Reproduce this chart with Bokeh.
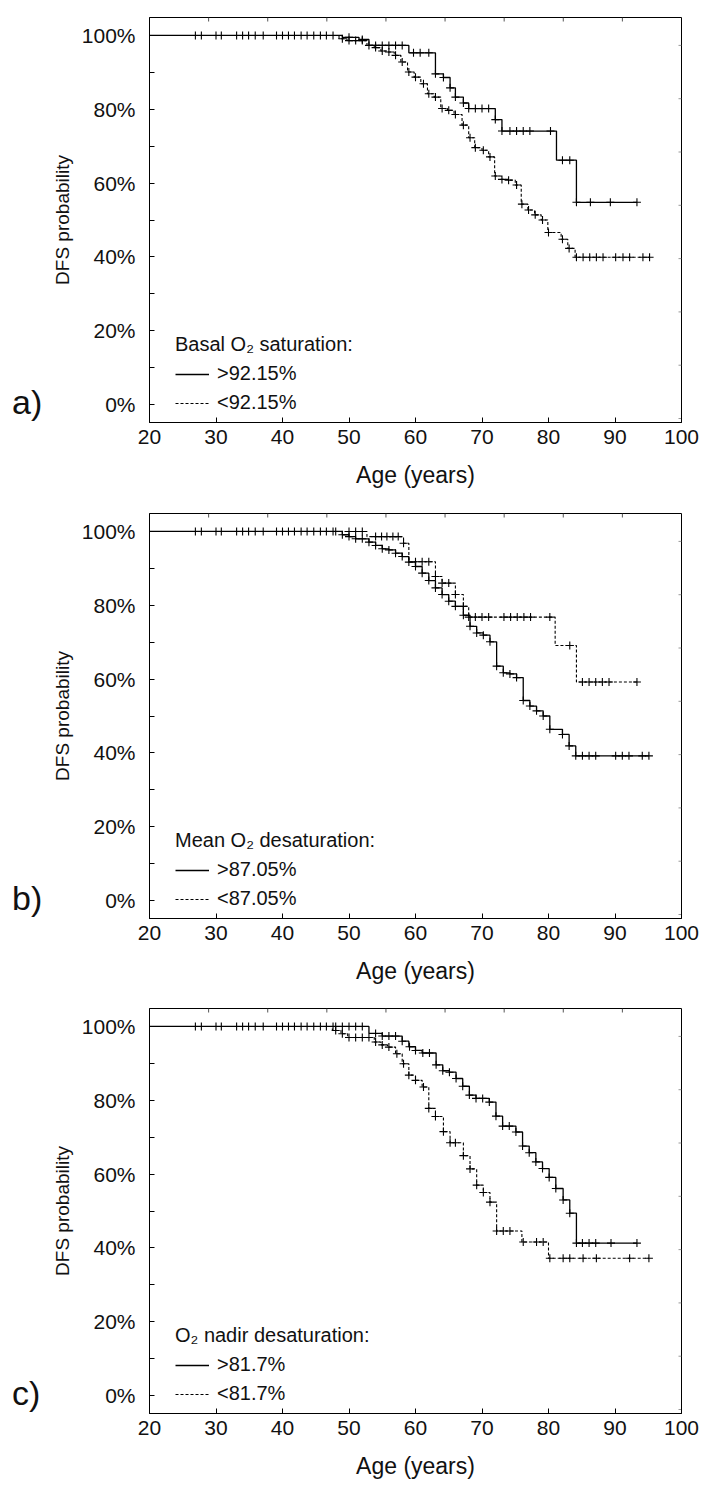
import numpy as np
from bokeh.plotting import figure
from bokeh.models import (Range1d, FixedTicker, PrintfTickFormatter,
                          Legend, LegendItem, Div)
from bokeh.layouts import column, row
from bokeh.embed import file_html
from bokeh.resources import INLINE

FONT = "Liberation Sans"

# ---------------- data (ages in years, survival in %) ----------------
top_cens_hi = [27.8, 30.8, 34.0, 35.9, 40.0, 41.8, 43.7, 45.7, 47.6]
top_cens_lo = [26.9, 30.0, 33.1, 34.9, 37.1, 39.1, 40.9, 42.8, 44.7, 46.6]

# Panel a: Basal O2 saturation
a_hi_age = [49.0, 51.5, 53.0, 59.0, 63.0, 64.2, 65.2, 66.0, 67.2, 68.0, 72.0, 73.0, 81.2, 84.2]
a_hi_surv = [99.5, 98.9, 97.3, 95.3, 89.6, 88.6, 85.8, 83.3, 81.7, 80.2, 77.2, 74.1, 66.2, 54.8]
a_hi_cens = [50.0, 52.0, 54.0, 55.0, 56.0, 57.0, 58.0, 59.7, 60.7, 62.0, 63.0, 64.2, 65.2,
             66.0, 67.2, 68.0, 69.0, 70.0, 71.0, 72.0, 73.0, 74.2, 75.2, 76.2, 77.2, 80.3,
             82.1, 83.2, 84.2, 86.3, 89.3, 93.3]
a_lo_age = [48.5, 49.7, 52.7, 53.8, 54.8, 55.8, 56.8, 57.8, 58.8, 59.8, 60.8, 61.8, 62.8,
            63.8, 64.8, 65.8, 67.0, 68.0, 68.9, 70.0, 71.0, 71.9, 72.9, 73.9, 75.0, 75.9,
            76.9, 77.9, 78.9, 79.9, 81.9, 82.9, 84.0]
a_lo_surv = [99.1, 98.6, 97.3, 96.7, 95.8, 95.5, 94.6, 92.8, 90.1, 88.7, 86.9, 84.2, 83.3,
             80.2, 79.7, 78.6, 75.7, 72.3, 69.6, 68.9, 67.1, 61.9, 61.0, 60.8, 59.5, 54.3,
             52.7, 51.4, 50.0, 46.6, 44.8, 42.3, 39.9]
a_lo_cens = [49.0, 50.0, 51.0, 52.0, 53.0, 54.0, 55.0, 56.0, 57.0, 58.0, 59.0, 60.0, 61.2,
             62.0, 63.0, 64.0, 65.0, 66.0, 67.2, 68.2, 69.0, 70.2, 71.2, 72.0, 73.0, 74.0,
             75.2, 76.0, 77.0, 78.0, 79.1, 80.0, 82.1, 83.1, 84.2, 85.2, 86.2, 87.2, 88.2,
             90.1, 91.2, 92.2, 94.2, 95.2]

# Panel b: Mean O2 desaturation
b_hi_age = [49.0, 50.0, 51.0, 53.0, 54.0, 55.0, 56.0, 57.0, 58.0, 59.0, 60.0, 61.0, 62.0,
            63.0, 64.0, 65.0, 66.0, 67.2, 68.2, 69.2, 70.2, 71.2, 72.2, 73.2, 74.2, 75.2,
            76.2, 77.2, 78.2, 79.2, 80.2, 82.1, 83.1, 84.1]
b_hi_surv = [99.1, 98.6, 98.0, 97.1, 96.2, 95.3, 95.0, 94.1, 93.2, 91.7, 90.5, 88.7, 86.7,
             84.7, 82.9, 81.1, 79.7, 77.3, 74.3, 72.5, 71.9, 70.1, 63.5, 61.7, 61.4, 60.4,
             54.2, 52.7, 51.4, 50.0, 46.4, 45.0, 41.9, 39.2]
b_hi_cens = [48.0, 49.0, 50.0, 51.0, 52.0, 53.0, 54.0, 55.0, 56.0, 57.0, 58.0, 59.0, 60.0,
             61.0, 62.0, 63.0, 64.0, 65.0, 66.0, 67.2, 68.2, 69.2, 70.2, 71.2, 72.2, 73.2,
             74.2, 75.2, 76.2, 77.2, 78.2, 79.2, 80.2, 82.1, 83.1, 84.1, 85.1, 86.1, 87.1,
             90.1, 91.1, 92.1, 94.1, 95.1]
b_lo_age = [52.7, 58.2, 59.0, 63.0, 64.0, 66.0, 67.2, 68.0, 81.0, 84.2]
b_lo_surv = [98.6, 96.8, 91.8, 87.8, 86.0, 82.9, 79.7, 76.8, 69.1, 59.2]
b_lo_cens = [50.0, 51.0, 52.0, 54.0, 54.9, 55.7, 56.6, 57.4, 58.2, 60.0, 61.0, 62.0, 63.0,
             64.0, 65.0, 66.0, 67.2, 68.0, 69.0, 70.0, 71.0, 73.3, 74.3, 75.3, 76.3, 77.3,
             80.2, 83.2, 85.1, 86.1, 87.1, 88.1, 89.1, 93.3]

# Panel c: O2 nadir desaturation
c_hi_age = [53.0, 55.0, 58.0, 59.0, 60.0, 61.0, 63.1, 64.1, 65.1, 66.1, 67.1, 68.1, 69.1,
            71.1, 72.1, 73.1, 75.1, 76.1, 77.1, 78.1, 79.1, 80.1, 81.1, 82.2, 83.2, 84.2]
c_hi_surv = [98.1, 97.4, 96.0, 94.5, 93.5, 92.8, 89.6, 88.0, 87.6, 85.9, 83.8, 81.4, 80.5,
             79.5, 75.7, 73.0, 71.4, 67.6, 65.8, 63.3, 61.5, 59.1, 56.1, 53.0, 49.4, 41.3]
c_hi_cens = [48.0, 49.0, 50.0, 51.0, 52.0, 54.0, 55.0, 56.0, 57.0, 58.0, 59.1, 60.0, 61.1,
             62.1, 63.1, 64.1, 65.1, 66.1, 67.1, 68.1, 69.1, 70.1, 71.1, 72.1, 73.1, 74.1,
             75.1, 76.1, 77.1, 78.1, 79.1, 80.1, 81.1, 82.2, 83.2, 84.2, 85.1, 86.1, 87.1,
             89.4, 93.3]
c_lo_age = [47.5, 48.8, 49.8, 53.8, 54.8, 55.8, 57.0, 58.0, 59.0, 60.0, 61.0, 62.0, 63.0,
            64.2, 65.2, 67.2, 68.2, 69.2, 70.2, 71.2, 72.2, 76.0, 80.0]
c_lo_surv = [98.9, 98.0, 97.0, 95.8, 95.0, 94.4, 92.6, 89.9, 86.8, 85.4, 83.6, 77.8, 75.6,
             71.5, 68.5, 65.0, 61.4, 57.0, 55.0, 52.4, 44.6, 41.6, 37.2]
c_lo_cens = [48.0, 49.0, 50.0, 51.0, 52.0, 53.0, 54.0, 55.0, 56.0, 57.2, 58.2, 59.0, 60.0,
             61.2, 62.0, 63.0, 64.2, 65.2, 66.0, 67.2, 68.2, 69.2, 70.2, 71.2, 72.2, 73.2,
             74.2, 76.2, 78.2, 79.2, 80.2, 82.2, 83.2, 85.2, 87.2, 92.2, 95.1]

x_ticks = [20, 30, 40, 50, 60, 70, 80, 90, 100]
y_ticks = [0, 20, 40, 60, 80, 100]
y_minor = [10, 30, 50, 70, 90]

panels = [
    ("a)", "Basal O\u2082 saturation:", ">92.15%", "<92.15%",
     a_hi_age, a_hi_surv, a_hi_cens, a_lo_age, a_lo_surv, a_lo_cens),
    ("b)", "Mean O\u2082 desaturation:", ">87.05%", "<87.05%",
     b_hi_age, b_hi_surv, b_hi_cens, b_lo_age, b_lo_surv, b_lo_cens),
    ("c)", "O\u2082 nadir desaturation:", ">81.7%", "<81.7%",
     c_hi_age, c_hi_surv, c_hi_cens, c_lo_age, c_lo_surv, c_lo_cens),
]

X0, X1 = 20.0, 100.0
Y0, Y1 = -4.86, 104.86


def surv_at(ages, ev_age, ev_surv):
    ea = np.asarray(ev_age)
    es = np.asarray(ev_surv)
    out = []
    for a in ages:
        i = np.searchsorted(ea, a, side="right") - 1
        out.append(100.0 if i < 0 else float(es[i]))
    return out


def step_xy(ev_age, ev_surv, cens):
    end = max(cens)
    xs = [X0] + list(ev_age) + [end]
    ys = [100.0] + list(ev_surv) + [ev_surv[-1]]
    return xs, ys


LEFT_W = 48
FIG_W = 706 - LEFT_W
FRAME_W = 532
FRAME_H = 405
layout_dims = [(495, 17), (495, 18), (498, 18)]

rows = []
for (letter, title, lab_hi, lab_lo, hi_age, hi_surv, hi_cens, lo_age, lo_surv, lo_cens), \
        (h, bt) in zip(panels, layout_dims):
    p = figure(width=FIG_W, height=h, x_range=Range1d(X0, X1), y_range=Range1d(Y0, Y1),
               output_backend="svg", toolbar_location=None, title=None,
               min_border_left=149 - LEFT_W, min_border_right=25,
               min_border_top=bt, min_border_bottom=h - bt - FRAME_H,
               x_axis_label="Age (years)", y_axis_label="DFS probability")
    p.xgrid.visible = False
    p.ygrid.visible = False
    p.outline_line_color = "black"
    p.outline_line_width = 1
    p.background_fill_color = "white"
    p.border_fill_color = "white"

    xa = p.xaxis[0]
    xa.ticker = FixedTicker(ticks=x_ticks)
    xa.major_tick_in = 5
    xa.major_tick_out = 0
    xa.minor_tick_line_color = None
    xa.major_label_standoff = 7
    xa.major_label_text_font = FONT
    xa.major_label_text_font_size = "21px"
    xa.major_label_text_color = "#111111"
    xa.axis_label_text_font = FONT
    xa.axis_label_text_font_size = "23px"
    xa.axis_label_text_font_style = "normal"
    xa.axis_label_text_color = "#111111"
    xa.axis_label_standoff = 15

    ya = p.yaxis[0]
    ya.ticker = FixedTicker(ticks=y_ticks, minor_ticks=y_minor)
    ya.formatter = PrintfTickFormatter(format="%d%%")
    ya.major_tick_in = 5
    ya.major_tick_out = 0
    ya.minor_tick_in = 5
    ya.minor_tick_out = 0
    ya.major_label_standoff = 14
    ya.major_label_text_font = FONT
    ya.major_label_text_font_size = "21px"
    ya.major_label_text_color = "#111111"
    ya.axis_label_text_font = FONT
    ya.axis_label_text_font_size = "19px"
    ya.axis_label_text_font_style = "normal"
    ya.axis_label_text_color = "#111111"
    ya.axis_label_standoff = 6

    # small inward ticks on the top and right edges of the frame
    top_ticks = [X0 + (X1 - X0) * k / 9 for k in range(1, 9)]
    tlen = 4 * (Y1 - Y0) / FRAME_H
    p.segment(x0=top_ticks, y0=[Y1] * len(top_ticks), x1=top_ticks,
              y1=[Y1 - tlen] * len(top_ticks), line_color="#555555", line_width=1)
    right_ticks = [97.3 - 14.44 * k for k in range(0, 8)]
    rlen = 3 * (X1 - X0) / FRAME_W
    p.segment(x0=[X1] * len(right_ticks), y0=right_ticks, x1=[X1 - rlen] * len(right_ticks),
              y1=right_ticks, line_color="#999999", line_width=1)

    lc = top_cens_lo + lo_cens
    hc = top_cens_hi + hi_cens
    lo_x, lo_y = step_xy(lo_age, lo_surv, lc)
    hi_x, hi_y = step_xy(hi_age, hi_surv, hc)
    r_lo = p.step(lo_x, lo_y, mode="after", line_color="black", line_width=1.1, line_dash="3 2")
    r_hi = p.step(hi_x, hi_y, mode="after", line_color="black", line_width=1.3)

    p.scatter(lc, surv_at(lc, lo_age, lo_surv), marker="cross", size=8,
              line_color="black", line_width=1.1)
    p.scatter(hc, surv_at(hc, hi_age, hi_surv), marker="cross", size=8,
              line_color="black", line_width=1.1)

    legend = Legend(items=[LegendItem(label=lab_hi, renderers=[r_hi]),
                           LegendItem(label=lab_lo, renderers=[r_lo])],
                    title=title, location=(22, 4),
                    title_text_font=FONT, title_text_font_size="20px",
                    title_text_font_style="normal", title_text_color="#111111",
                    title_standoff=6,
                    label_text_font=FONT, label_text_font_size="20px",
                    label_text_color="#111111",
                    glyph_width=34, glyph_height=20, label_height=20, label_standoff=8,
                    spacing=6, padding=4, margin=0,
                    background_fill_alpha=0, border_line_alpha=0)
    p.add_layout(legend)

    letter_div = Div(
        text=('<div style="padding-top:%dpx; padding-left:12px; font-family:\'Liberation Sans\';'
              ' font-size:34px; line-height:40px; color:#111111;">%s</div>') % (bt + FRAME_H - 40, letter),
        width=LEFT_W, height=h, margin=0)
    rows.append(row(letter_div, p, spacing=0))

lay = column(*rows, spacing=0)
open("out.html", "w").write(file_html(lay, INLINE))
